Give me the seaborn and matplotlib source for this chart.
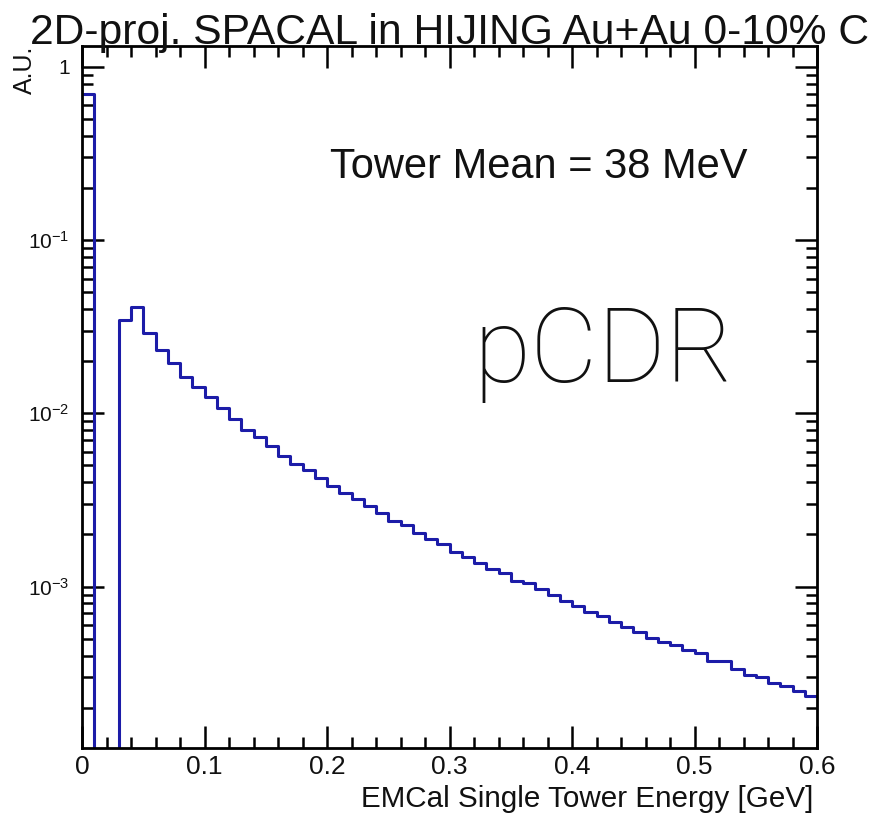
import matplotlib
matplotlib.use("Agg")
import matplotlib.pyplot as plt
import seaborn as sns
import numpy as np
import pandas as pd
from matplotlib.ticker import FixedLocator, FixedFormatter, MultipleLocator, LogLocator, NullFormatter

# Histogram binning: 60 bins of 10 MeV from 0 to 0.6 GeV
bin_edges = np.linspace(0.0, 0.6, 61)

# Normalised tower counts per bin
tower_counts = [
    0.702, 0.0, 0.0, 0.0345, 0.0412, 0.0292, 0.0232, 0.0196, 0.01626, 0.01424,
    0.01237, 0.01069, 0.00924, 0.00804, 0.00730, 0.00648, 0.00565, 0.00510, 0.00473, 0.00422,
    0.00381, 0.00347, 0.00322, 0.00292, 0.00267, 0.00240, 0.00226, 0.00203, 0.00187, 0.00176,
    0.00159, 0.001476, 0.001373, 0.001268, 0.001193, 0.001081, 0.001049, 0.000968, 0.000894, 0.000829,
    0.000773, 0.000716, 0.000677, 0.000627, 0.000587, 0.000549, 0.000503, 0.000481, 0.000460, 0.000431,
    0.000415, 0.000371, 0.000371, 0.000334, 0.000307, 0.000299, 0.000278, 0.000268, 0.000251, 0.000234,
]

x_ticks = [0, 0.1, 0.2, 0.3, 0.4, 0.5, 0.6]
x_tick_labels = ["0", "0.1", "0.2", "0.3", "0.4", "0.5", "0.6"]
y_ticks = [1e-3, 1e-2, 1e-1, 1]
y_tick_labels = [r"$\mathregular{10^{-3}}\hspace{0.6}$", r"$\mathregular{10^{-2}}\hspace{0.6}$",
                 r"$\mathregular{10^{-1}}\hspace{0.6}$", "1"]

sns.set_theme(style="ticks")
plt.rcParams['font.family'] = ['Liberation Sans', 'DejaVu Sans']
plt.rcParams['mathtext.fontset'] = 'custom'
plt.rcParams['mathtext.rm'] = 'Liberation Sans'
plt.rcParams['mathtext.it'] = 'Liberation Sans:italic'

line_color = '#1c1ca8'

df = pd.DataFrame({
    'energy': (bin_edges[:-1] + bin_edges[1:]) / 2,
    'weight': tower_counts,
})

fig = plt.figure(figsize=(8.71, 8.17), dpi=100)
ax = fig.add_axes([82 / 871, 69 / 817, 735 / 871, 702 / 817])

sns.histplot(data=df, x='energy', weights='weight', bins=list(bin_edges),
             element='step', fill=False, color=line_color, linewidth=2.2, ax=ax)

ax.set_yscale('log')
ax.set_xlim(0, 0.6)
ax.set_ylim(1.17e-4, 1.32)

# ROOT-like frame and ticks
for sp in ax.spines.values():
    sp.set_visible(True)
    sp.set_linewidth(2)
    sp.set_color('black')

ax.xaxis.set_major_locator(FixedLocator(x_ticks))
ax.xaxis.set_major_formatter(FixedFormatter(x_tick_labels))
ax.xaxis.set_minor_locator(MultipleLocator(0.02))
ax.yaxis.set_major_locator(FixedLocator(y_ticks))
ax.yaxis.set_major_formatter(FixedFormatter(y_tick_labels))
ax.yaxis.set_minor_locator(LogLocator(base=10, subs=np.arange(2, 10)))
ax.yaxis.set_minor_formatter(NullFormatter())

ax.tick_params(which='both', direction='in', top=True, right=True, color='black', width=1.8)
ax.tick_params(which='major', length=16)
ax.tick_params(which='minor', length=8)
ax.tick_params(axis='x', which='major', labelsize=19, pad=5, labelcolor='#111111')
ax.tick_params(axis='y', which='major', labelsize=15, pad=9, labelcolor='#111111')

ax.set_xlabel('EMCal Single Tower Energy [GeV]', fontsize=21.3, loc='right', color='#111111')
ax.xaxis.set_label_coords(0.995, -0.052)
ax.set_ylabel('A.U.', fontsize=18, loc='top', color='#111111')
ax.yaxis.set_label_coords(-0.061, 1.0)

fig.text(30 / 871, 1 - 44 / 817, '2D-proj. SPACAL in HIJING Au+Au 0-10% C',
         fontsize=30.7, ha='left', va='baseline', color='#111111')

ax.text(0.337, 0.812, 'Tower Mean = 38 MeV', transform=ax.transAxes,
        fontsize=30, ha='left', va='baseline', color='#111111')
ax.text(0.533, 0.521, 'pCDR', transform=ax.transAxes,
        fontsize=75, ha='left', va='baseline', color='#111111',
        family=['Roboto', 'Liberation Sans'], fontweight='light')

fig.savefig('out.png', dpi=100)
